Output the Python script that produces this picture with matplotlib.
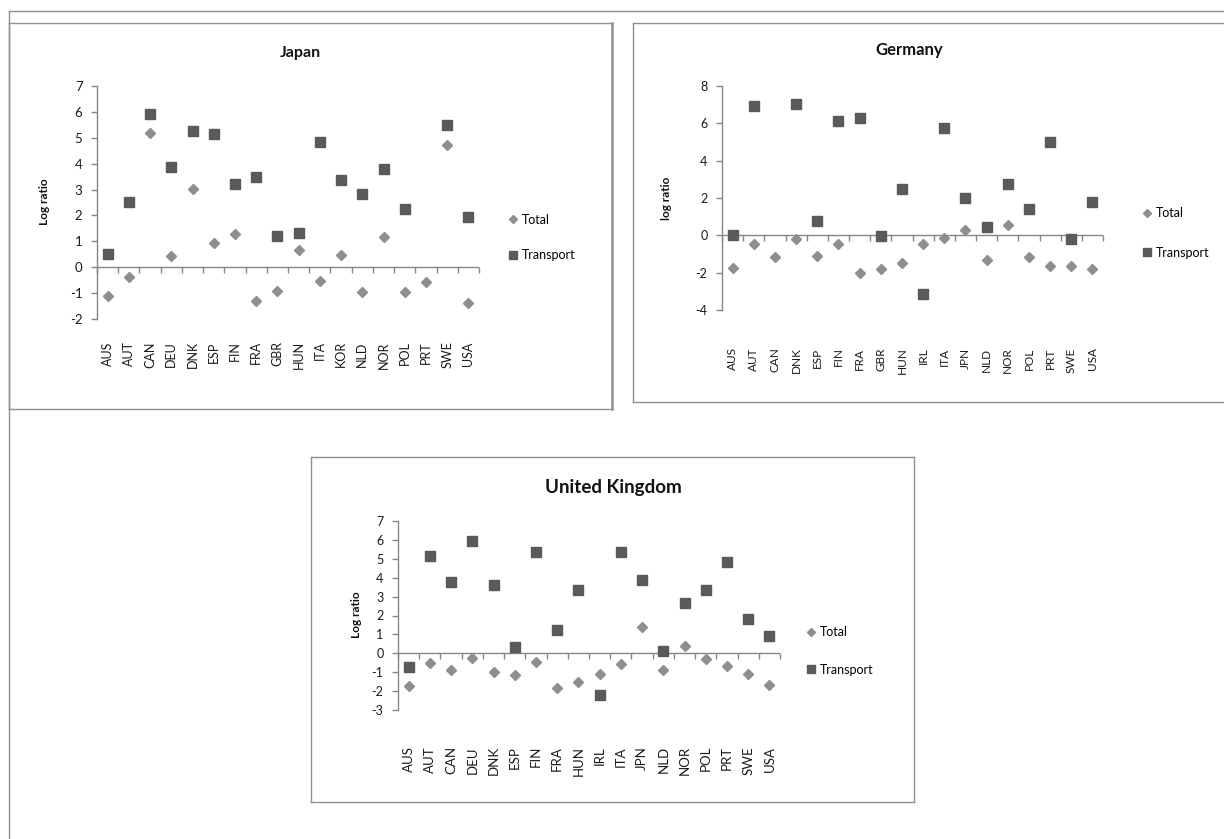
import numpy as np
import matplotlib
matplotlib.use("Agg")
import matplotlib.pyplot as plt
from matplotlib.lines import Line2D

nan = np.nan

# ---------------- data ----------------
jp_cats = ["AUS", "AUT", "CAN", "DEU", "DNK", "ESP", "FIN", "FRA", "GBR",
           "HUN", "ITA", "KOR", "NLD", "NOR", "POL", "PRT", "SWE", "USA"]
jp_total = [-1.12, -0.39, 5.20, 0.45, 3.04, 0.94, 1.29, -1.31, -0.93,
            0.66, -0.54, 0.48, -0.94, 1.15, -0.97, -0.58, 4.74, -1.38]
jp_transport = [0.52, 2.51, 5.92, 3.89, 5.27, 5.15, 3.20, 3.47, 1.20,
                1.34, 4.85, 3.35, 2.83, 3.78, 2.25, nan, 5.48, 1.95]

de_cats = ["AUS", "AUT", "CAN", "DNK", "ESP", "FIN", "FRA", "GBR", "HUN",
           "IRL", "ITA", "JPN", "NLD", "NOR", "POL", "PRT", "SWE", "USA"]
de_total = [-1.74, -0.46, -1.17, -0.18, -1.12, -0.46, -2.04, -1.78, -1.48,
            -0.48, -0.14, 0.27, -1.33, 0.53, -1.16, -1.64, -1.64, -1.80]
de_transport = [0.00, 6.92, nan, 7.04, 0.76, 6.10, 6.26, -0.04, 2.50,
                -3.13, 5.76, 1.99, 0.46, 2.76, 1.39, 4.98, -0.21, 1.78]

uk_cats = ["AUS", "AUT", "CAN", "DEU", "DNK", "ESP", "FIN", "FRA", "HUN",
           "IRL", "ITA", "JPN", "NLD", "NOR", "POL", "PRT", "SWE", "USA"]
uk_total = [-1.75, -0.49, -0.86, -0.26, -1.00, -1.17, -0.44, -1.86, -1.54,
            -1.12, -0.56, 1.37, -0.88, 0.37, -0.30, -0.65, -1.07, -1.70]
uk_transport = [-0.72, 5.16, 3.75, 5.95, 3.60, 0.35, 5.34, 1.21, 3.33,
                -2.19, 5.34, 3.87, 0.10, 2.66, 3.33, 4.83, 1.82, 0.89]

series_names = ["Total", "Transport"]

# ---------------- style ----------------
plt.rcParams['font.family'] = ['Lato', 'DejaVu Sans']
plt.rcParams['axes.unicode_minus'] = False
W, H = 1224, 839
SQ = "#5a5a5a"
DI = "#8e8e8e"
AX = "#868686"
FRAME = "#8f8f8f"

fig = plt.figure(figsize=(W / 100, H / 100), dpi=100)
fig.patch.set_facecolor("white")


def fline(xs, ys, lw=1.0, color=FRAME):
    fig.add_artist(Line2D([x / W for x in xs], [1 - y / H for y in ys],
                          transform=fig.transFigure, color=color, lw=lw))


def box(x0, y0, x1, y1, lw=1.0, right_lw=None):
    fline([x0, x1], [y0, y0], lw)
    fline([x0, x0], [y0, y1], lw)
    fline([x0, x1], [y1, y1], lw)
    fline([x1, x1], [y0, y1], right_lw or lw)


# outer frame
fline([8.5, W + 5], [10.5, 10.5])
fline([8.5, 8.5], [10.5, H + 5])
# chart boxes
box(8.5, 22.5, 612, 409, right_lw=1.8)
box(633, 22.5, W + 5, 402)
box(311, 457, 914, 802)


def panel(cats, total, transport, px, ylim, ystep, title, title_xy, title_fs,
          ylabel, ylabel_xy, legend_xy, legend_sp, tick_fs, cat_fs, cat_pad):
    x0, x1, yt, yb = px
    ax = fig.add_axes([x0 / W, 1 - yb / H, (x1 - x0) / W, (yb - yt) / H])
    ax.set_facecolor("none")
    x = np.arange(len(cats))
    h_tr, = ax.plot(x, transport, ls='none', marker='s', ms=7.2, color=SQ,
                    zorder=3, label=series_names[1])
    h_to, = ax.plot(x, total, ls='none', marker='D', ms=4.6, color=DI,
                    zorder=3, label=series_names[0])
    ax.set_xlim(-0.5, len(cats) - 0.5)
    ax.set_ylim(*ylim)
    ax.axhline(0, color=AX, lw=1.0, zorder=1)
    bounds = np.arange(len(cats) + 1) - 0.5
    ax.plot(bounds, np.zeros_like(bounds), ls='none', marker=3, ms=4.5,
            mew=1.0, color=AX, zorder=1, clip_on=False)
    for s in ["top", "right", "bottom"]:
        ax.spines[s].set_visible(False)
    ax.spines["left"].set_color(AX)
    ax.spines["left"].set_linewidth(1.0)
    ax.set_yticks(np.arange(ylim[0], ylim[1] + 0.01, ystep))
    ax.tick_params(axis='y', direction='out', length=4.5, width=1.0,
                   color=AX, labelsize=tick_fs, pad=6, labelcolor="#1a1a1a")
    ax.set_xticks(x)
    ax.set_xticklabels(cats, rotation=90)
    ax.tick_params(axis='x', length=0, labelsize=cat_fs, pad=cat_pad,
                   labelcolor="#1a1a1a")
    fig.text(title_xy[0] / W, 1 - title_xy[1] / H, title, ha='center',
             va='center', fontsize=title_fs, fontweight='bold', color="#111111")
    fig.text(ylabel_xy[0] / W, 1 - ylabel_xy[1] / H, ylabel, ha='center',
             va='center', rotation=90, fontsize=8.5, fontweight='bold',
             color="#111111")
    ax.legend(handles=[h_to, h_tr], loc='center left',
              bbox_to_anchor=(legend_xy[0] / W, 1 - legend_xy[1] / H),
              bbox_transform=fig.transFigure, frameon=False, fontsize=9,
              handlelength=0.8, handletextpad=0.3, labelspacing=legend_sp,
              borderpad=0, borderaxespad=0, markerscale=0.85)
    return ax


panel(jp_cats, jp_total, jp_transport, (97, 479, 86, 319), (-2, 7), 1,
      "Japan", (300, 53), 11.5, "Log ratio", (44, 202), (508, 237.5), 1.9,
      9.5, 9, 16)
panel(de_cats, de_total, de_transport, (722, 1103, 86, 310), (-4, 8), 2,
      "Germany", (909, 50), 12, "log ratio", (667, 198), (1142, 233), 2.2,
      9, 8.5, 27)
panel(uk_cats, uk_total, uk_transport, (398, 780, 521, 710), (-3, 7), 1,
      "United Kingdom", (613, 487), 13.5, "Log ratio", (356, 615), (806, 651),
      2.0, 9, 9.5, 26)

fig.savefig("out.png", dpi=100, facecolor="white")
